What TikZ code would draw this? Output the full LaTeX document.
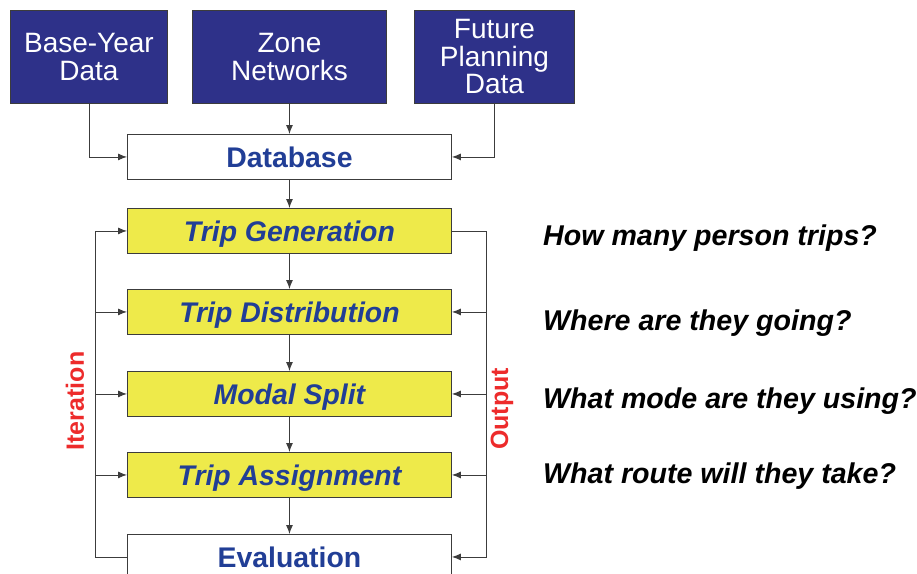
\documentclass[tikz,border=0pt]{standalone}
\usepackage{fontspec}
\setmainfont{Liberation Sans}
\usetikzlibrary{arrows.meta}
\definecolor{navyfill}{RGB}{46,49,137}
\definecolor{txtblue}{RGB}{33,62,150}
\definecolor{boxyellow}{RGB}{238,234,74}
\definecolor{lblred}{RGB}{237,43,43}
\definecolor{linegray}{RGB}{60,60,60}
\tikzset{
  navybox/.style={draw=linegray, line width=0.9pt, fill=navyfill, text=white, align=center,
    inner sep=0pt, anchor=north west, minimum height=93pt,
    font=\fontsize{28}{27.5}\selectfont},
  stagebox/.style={draw=linegray, line width=0.9pt, fill=boxyellow, text=txtblue,
    inner sep=0pt, anchor=north west, minimum width=324pt, minimum height=45pt,
    text height=27pt, text depth=6pt,
    font=\fontsize{28.4}{30}\selectfont\bfseries\itshape},
  whitebox/.style={draw=linegray, line width=0.9pt, fill=white, text=txtblue,
    inner sep=0pt, anchor=north west, minimum width=324pt, minimum height=45pt,
    text height=27pt, text depth=6pt,
    font=\fontsize{28.4}{30}\selectfont\bfseries},
  conn/.style={draw=linegray, line width=0.9pt},
  arr/.style={conn, -{Latex[length=9pt,width=7pt]}},
  question/.style={anchor=base west, inner sep=0pt, font=\fontsize{28.6}{30}\selectfont\bfseries\itshape},
  sidelabel/.style={text=lblred, rotate=90, inner sep=0pt, font=\fontsize{25}{27}\selectfont\bfseries}
}
\begin{document}
\begin{tikzpicture}[x=1pt,y=-1pt]
\useasboundingbox (0,0) rectangle (917,573);
\clip (0,0) rectangle (917,573);
% top input boxes
\node[navybox, minimum width=157pt] (base) at (10,10) {Base-Year\\Data};
\node[navybox, minimum width=194pt] (zone) at (192,10) {Zone\\Networks};
\node[navybox, minimum width=160pt] (future) at (414,10) {Future\\Planning\\Data};
% database
\node[whitebox] (db) at (127,134) {Database};
% stages
\node[stagebox] (tg) at (127,208) {Trip Generation};
\node[stagebox] (td) at (127,289) {Trip Distribution};
\node[stagebox] (ms) at (127,371) {Modal Split};
\node[stagebox] (ta) at (127,452) {Trip Assignment};
\node[whitebox] (ev) at (127,534) {Evaluation};
% top connectors
\draw[arr] (base.south) |- (db.west);
\draw[arr] (zone.south) -- (db.north);
\draw[arr] (future.south) |- (db.east);
% vertical chain
\draw[arr] (db.south) -- (tg.north);
\draw[arr] (tg.south) -- (td.north);
\draw[arr] (td.south) -- (ms.north);
\draw[arr] (ms.south) -- (ta.north);
\draw[arr] (ta.south) -- (ev.north);
% iteration loop (left)
\draw[arr] (ev.west) -| ([xshift=-32pt]tg.west) -- (tg.west);
\draw[arr] ([xshift=-32pt]td.west) -- (td.west);
\draw[arr] ([xshift=-32pt]ms.west) -- (ms.west);
\draw[arr] ([xshift=-32pt]ta.west) -- (ta.west);
% output loop (right)
\draw[conn] (tg.east) -| ([xshift=35pt]ev.east);
\draw[arr] ([xshift=35pt]ev.east) -- (ev.east);
\draw[arr] ([xshift=35pt]td.east) -- (td.east);
\draw[arr] ([xshift=35pt]ms.east) -- (ms.east);
\draw[arr] ([xshift=35pt]ta.east) -- (ta.east);
% side labels
\node[sidelabel] (iter) at (75,401) {Iteration};
\node[sidelabel] (outp) at (502,409) {Output};
% questions
\node[question] (q1) at (543,245) {How many person trips?};
\node[question] (q2) at (543,330) {Where are they going?};
\node[question] (q3) at (543,408) {What mode are they using?};
\node[question] (q4) at (543,483) {What route will they take?};
\end{tikzpicture}
\end{document}
